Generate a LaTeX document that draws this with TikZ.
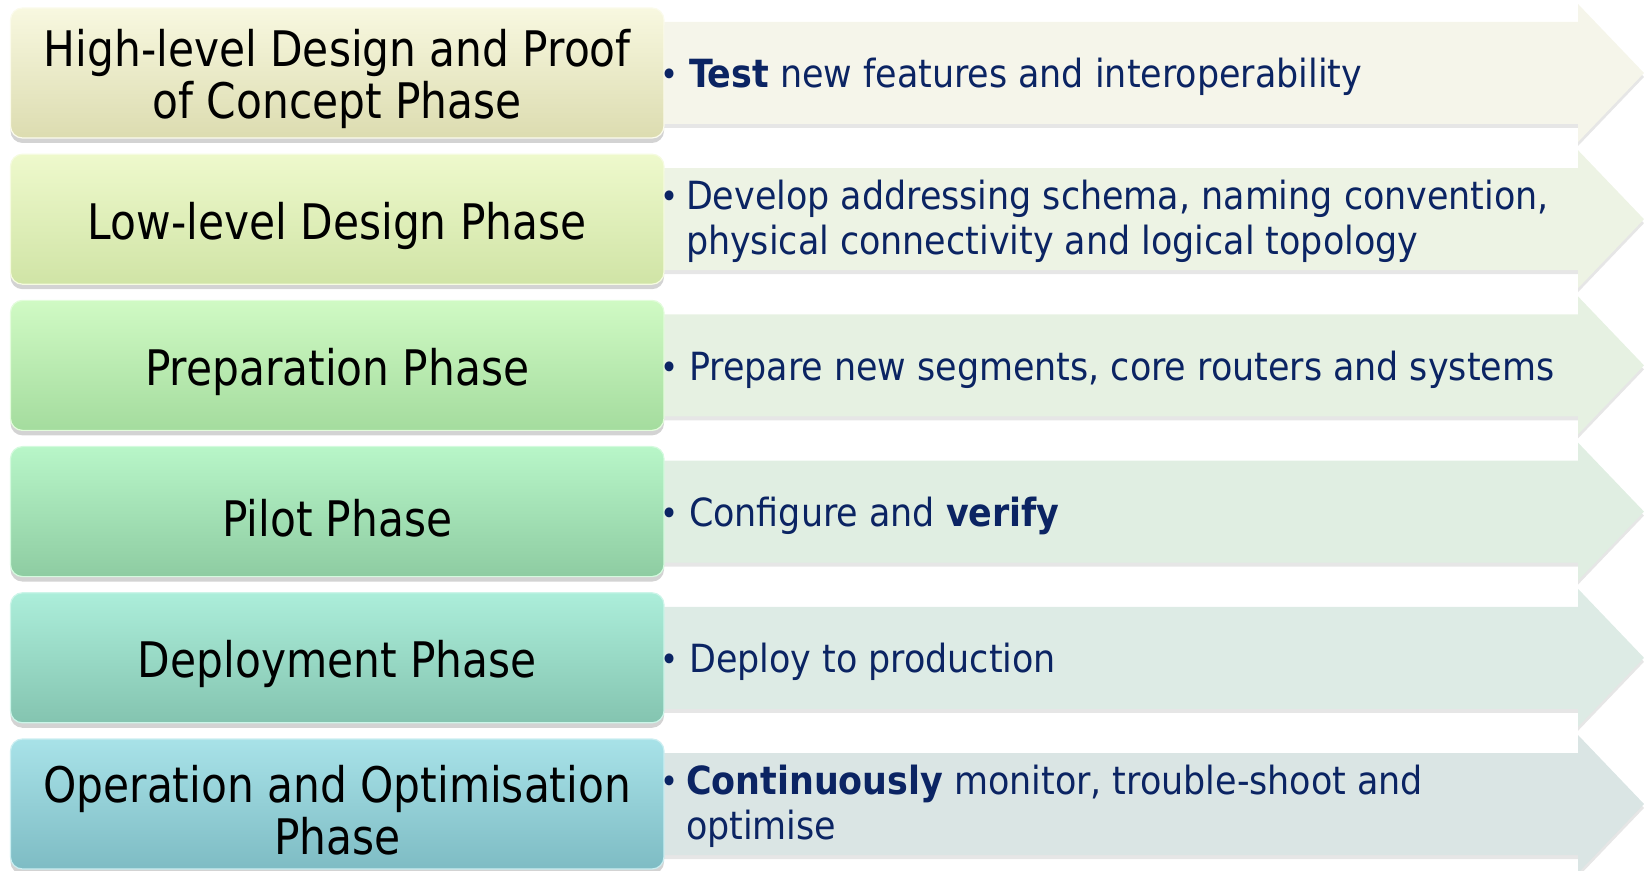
\documentclass[tikz,border=0pt]{standalone}
\usepackage{fontspec}
\setmainfont{DejaVu Sans}
\newfontfamily\phasefont[FakeStretch=0.96]{DejaVu Sans Condensed}
\newfontfamily\notefont{DejaVu Sans Condensed}
\usetikzlibrary{positioning, shadows}
\definecolor{navy}{HTML}{0B2463}
% box colours, top and bottom of each gradient
\definecolor{phaseAtop}{HTML}{F8F8E0}\definecolor{phaseAbot}{HTML}{DCDCB0}
\definecolor{phaseBtop}{HTML}{EEF9CC}\definecolor{phaseBbot}{HTML}{D0E4A6}
\definecolor{phaseCtop}{HTML}{D0FAC4}\definecolor{phaseCbot}{HTML}{A4DC9E}
\definecolor{phaseDtop}{HTML}{B8F6C8}\definecolor{phaseDbot}{HTML}{8ECCA2}
\definecolor{phaseEtop}{HTML}{ACEEDA}\definecolor{phaseEbot}{HTML}{84C4B0}
\definecolor{phaseFtop}{HTML}{A8E2E8}\definecolor{phaseFbot}{HTML}{7EBCC4}
% arrow colours
\definecolor{bannerA}{HTML}{F5F5EA}
\definecolor{bannerB}{HTML}{EDF3E4}
\definecolor{bannerC}{HTML}{E6F1E2}
\definecolor{bannerD}{HTML}{E0EEE2}
\definecolor{bannerE}{HTML}{DDEBE5}
\definecolor{bannerF}{HTML}{DAE5E4}
\newcommand{\dotmark}{\raisebox{0.5pt}{\fontsize{17}{17}\selectfont\textbullet}}
\newcommand{\lift}{\rule{0pt}{25pt}} % pushes the box text down a little
\tikzset{
    x=0.5pt, y=-0.5pt, % one unit is one pixel of the slide
    phase/.style={rounded corners=6pt, minimum width=326.75pt, minimum height=65pt,
        align=center, inner sep=0pt, outer sep=0pt, draw=white!40!#1top, line width=0.6pt,
        top color=#1top, bottom color=#1bot,
        font=\phasefont\fontsize{24.5}{26}\selectfont,
        drop shadow={opacity=0.35, shadow xshift=0pt, shadow yshift=-2.5pt}}, % rounded boxes on the left
    note/.style={inner sep=0pt, text=navy, align=left, yshift=-2pt,
        font=\notefont\fontsize{19.4}{22.5}\selectfont}, % text on the arrows
    banner/.style={drop shadow={opacity=0.2, shadow xshift=0pt, shadow yshift=-2pt}},
    node distance=8.1pt,
}
\begin{document}
\begin{tikzpicture}
\useasboundingbox (0,0) rectangle (1644,871);
\foreach \i/\col in {0/bannerA, 1/bannerB, 2/bannerC, 3/bannerD, 4/bannerE, 5/bannerF}{
    \pgfmathsetmacro{\c}{73+146.2*\i}
    \fill[banner, fill=\col] (640,\c-51) -| (1578,\c-69) -- (1644,\c) -- (1578,\c+69) |- (640,\c+51) -- cycle;
}
\node[phase=phaseA] (box1) at (337.25,73) {\lift High-level Design and Proof\\of Concept Phase};
\node[phase=phaseB, below=of box1] (box2) {\lift Low-level Design Phase};
\node[phase=phaseC, below=of box2] (box3) {\lift Preparation Phase};
\node[phase=phaseD, below=of box3] (box4) {\lift Pilot Phase};
\node[phase=phaseE, below=of box4] (box5) {\lift Deployment Phase};
\node[phase=phaseF, below=of box5] (box6) {\lift Operation and Optimisation\\Phase};
\node[note, right=-2.2pt of box1] (note1) {\dotmark\ \textbf{Test} new features and interoperability};
\node[note, right=-2.2pt of box2] (note2) {\begin{tabular}{@{}l@{\hspace{4pt}}l@{}}\dotmark & Develop addressing schema, naming convention,\\ & physical connectivity and logical topology\end{tabular}};
\node[note, right=-2.2pt of box3] (note3) {\dotmark\ Prepare new segments, core routers and systems};
\node[note, right=-2.2pt of box4] (note4) {\dotmark\ Configure and \textbf{verify}};
\node[note, right=-2.2pt of box5] (note5) {\dotmark\ Deploy to production};
\node[note, right=-2.2pt of box6] (note6) {\begin{tabular}{@{}l@{\hspace{4pt}}l@{}}\dotmark & \textbf{Continuously} monitor, trouble-shoot and\\ & optimise\end{tabular}};
\end{tikzpicture}
\end{document}
